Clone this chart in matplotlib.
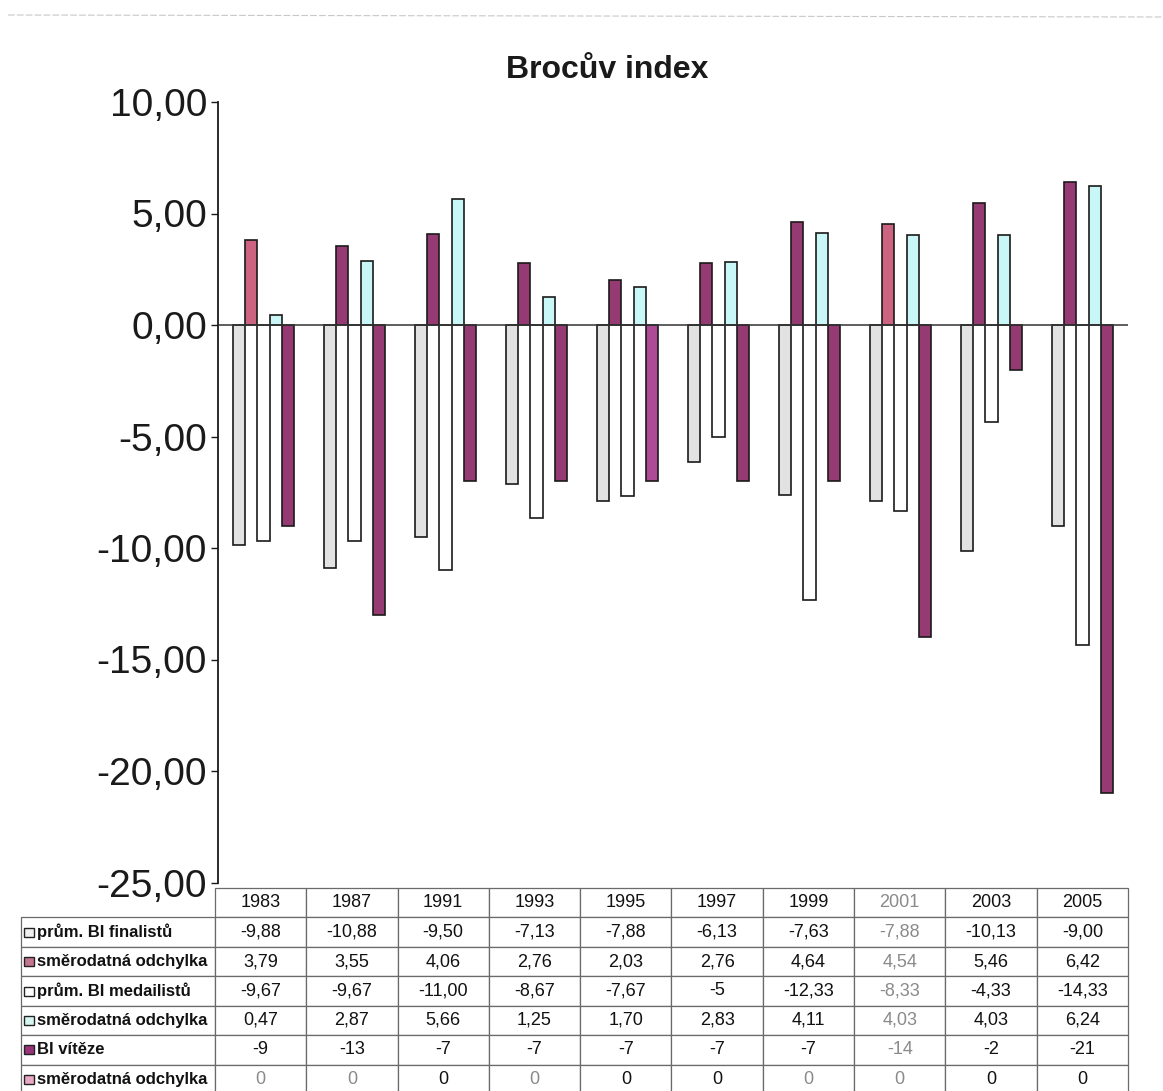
import matplotlib.pyplot as plt
from matplotlib.patches import Rectangle
from matplotlib.ticker import FuncFormatter

plt.rcParams['font.family'] = ['Liberation Sans', 'DejaVu Sans']

years = ["1983", "1987", "1991", "1993", "1995", "1997", "1999", "2001", "2003", "2005"]

# table values, kept as the strings printed in the table
finalisti = ["-9,88", "-10,88", "-9,50", "-7,13", "-7,88", "-6,13", "-7,63", "-7,88", "-10,13", "-9,00"]
sd_finalisti = ["3,79", "3,55", "4,06", "2,76", "2,03", "2,76", "4,64", "4,54", "5,46", "6,42"]
medailisti = ["-9,67", "-9,67", "-11,00", "-8,67", "-7,67", "-5", "-12,33", "-8,33", "-4,33", "-14,33"]
sd_medailisti = ["0,47", "2,87", "5,66", "1,25", "1,70", "2,83", "4,11", "4,03", "4,03", "6,24"]
vitez = ["-9", "-13", "-7", "-7", "-7", "-7", "-7", "-14", "-2", "-21"]
sd_vitez = ["0", "0", "0", "0", "0", "0", "0", "0", "0", "0"]

row_labels = ["prům. BI finalistů", "směrodatná odchylka", "prům. BI medailistů",
              "směrodatná odchylka", "BI vítěze", "směrodatná odchylka"]
rows = [finalisti, sd_finalisti, medailisti, sd_medailisti, vitez, sd_vitez]

plum = "#963a73"
fills = ["#e2e2e2", plum, "white", "#c9f6f6", plum, "#eaa8c6"]
key_fills = ["#eeeeee", "#c27490", "white", "#d6f6f2", "#99337a", "#eaa8c6"]
# single points that were coloured differently
point_colors = {(1, 0): "#cc6481", (1, 7): "#cc6481", (4, 4): "#ad4b97"}


def num(s):
    return float(s.replace(",", "."))


W, H = 1163, 1091


def fx(px):
    return px / W


def fy(py):
    return 1 - py / H


fig = plt.figure(figsize=(W / 100, H / 100), dpi=100)
ax = fig.add_axes([fx(218), fy(882.5), (1128 - 218) / W, (882.5 - 102) / H])

slot = 0.132
for k in range(5):
    vals = [num(v) for v in rows[k]]
    cols = [point_colors.get((k, i), fills[k]) for i in range(len(years))]
    xs = [i + (k - 2) * slot for i in range(len(years))]
    ax.bar(xs, vals, width=slot, color=cols, edgecolor="#1a1a1a", linewidth=1.2, zorder=2)

ax.axhline(0, color="#333333", linewidth=1.1, zorder=3)
ax.set_xlim(-0.5, len(years) - 0.5)
ax.set_ylim(-25, 10)
ax.set_yticks([10, 5, 0, -5, -10, -15, -20, -25])
ax.yaxis.set_major_formatter(FuncFormatter(lambda v, p: f"{v:.2f}".replace(".", ",")))
ax.tick_params(axis="y", direction="out", length=5, width=1, labelsize=28, pad=3,
               colors="#1a1a1a")
ax.set_xticks([])
for s in ["top", "right", "bottom"]:
    ax.spines[s].set_visible(False)
ax.spines["left"].set_color("#1a1a1a")
ax.spines["left"].set_linewidth(1.3)

# data table under the plot (bbox covers the year columns, labels sit to the left)
ax_w = 1128 - 218
ax_h = 882.5 - 102
tab_top, tab_bot, tab_left, lab_left = 888, 1094, 215, 21
row_h = (tab_bot - tab_top) / 7
col_w = (1128 - tab_left) / len(years)
tab = ax.table(cellText=rows, colLabels=years, cellLoc="center", colLoc="center",
               bbox=[(tab_left - 218) / ax_w, (882.5 - tab_bot) / ax_h,
                     (1128 - tab_left) / ax_w, (tab_bot - tab_top) / ax_h])
# row labels as fixed-width cells
for i, lab in enumerate(row_labels):
    tab.add_cell(i + 1, -1, width=(tab_left - lab_left) / ax_w, height=row_h / ax_h,
                 text=lab, loc="left")
tab.auto_set_font_size(False)
tab.set_fontsize(13)

muted = "#8a8a8a"
for (r, c), cell in tab.get_celld().items():
    cell.set_edgecolor("#6a6a6a")
    cell.set_linewidth(0.9)
    if c >= 0:
        cell.set_width(col_w / ax_w)
        cell.set_height(row_h / ax_h)
    txt = cell.get_text()
    txt.set_color("#111111")
    if c == -1:
        cell.PAD = 0.085
        txt.set_fontweight("bold")
        txt.set_fontsize(12)
    if c == 7:
        txt.set_color(muted)
    if r == 6 and c in (0, 1, 3, 6):
        txt.set_color(muted)

# legend keys in front of the row labels
for i, fc in enumerate(key_fills):
    cy = tab_top + row_h * (i + 1.5)
    fig.add_artist(Rectangle((fx(24.5), fy(cy + 4.5)), 9 / W, 9 / H, transform=fig.transFigure,
                             facecolor=fc, edgecolor="#222222", linewidth=1))

fig.text(fx(607), fy(70), "Brocův index", ha="center", va="center",
         fontsize=23, fontweight="bold", color="#1a1a1a")

# faint chart border at the top
fig.add_artist(plt.Line2D([fx(8), 1], [fy(15), fy(17)], transform=fig.transFigure,
                          color="#c8c8c8", linewidth=0.8, linestyle=(0, (6, 2))))

fig.savefig("out.png", dpi=100)
